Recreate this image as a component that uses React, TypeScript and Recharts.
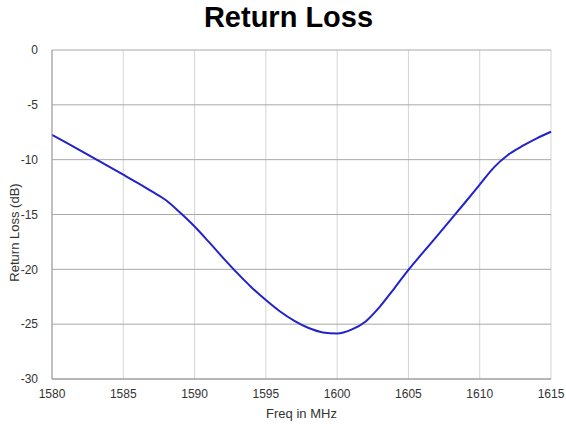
import { CartesianGrid, Label, Line, LineChart, XAxis, YAxis } from 'recharts';

const freqs = [
  1580, 1581, 1582, 1583, 1584, 1585, 1586, 1587, 1588, 1589, 1590, 1591, 1592, 1593, 1594, 1595, 1596, 1597,
  1598, 1599, 1600, 1601, 1602, 1603, 1604, 1605, 1606, 1607, 1608, 1609, 1610, 1611, 1612, 1613, 1614, 1615,
];
const returnLoss = [
  -7.75, -8.45, -9.17, -9.9, -10.63, -11.37, -12.12, -12.9, -13.7, -14.85, -16.1, -17.5, -18.95, -20.35, -21.65,
  -22.8, -23.85, -24.7, -25.35, -25.75, -25.85, -25.5, -24.75, -23.4, -21.75, -20.05, -18.5, -16.97, -15.42, -13.86,
  -12.28, -10.7, -9.55, -8.75, -8.05, -7.45,
];
const xTicks = [1580, 1585, 1590, 1595, 1600, 1605, 1610, 1615];
const yTicks = [-30, -25, -20, -15, -10, -5, 0];

const data = freqs.map((f, i) => ({ freq: f, rl: returnLoss[i] }));

const font = 'Liberation Sans, Arial, sans-serif';

// y label sits a bit below the plot's middle in the original
const YLabel = ({ viewBox }: any) => {
  const x = 19;
  const y = viewBox.y + viewBox.height / 2 + 18;
  return (
    <text
      x={x}
      y={y}
      transform={`rotate(-90, ${x}, ${y})`}
      textAnchor="middle"
      fill="#333"
      fontSize={13}
      fontFamily={font}
    >
      Return Loss (dB)
    </text>
  );
};

export default function App() {
  return (
    <div style={{ position: 'absolute', left: 0, top: 0, width: 566, height: 425, background: '#fff', fontFamily: font }}>
      <div
        style={{
          position: 'absolute',
          top: 0,
          left: 0,
          width: 577,
          textAlign: 'center',
          fontSize: 29,
          lineHeight: '34px',
          fontWeight: 'bold',
          color: '#000',
        }}
      >
        Return Loss
      </div>
      <LineChart width={566} height={425} data={data} margin={{ top: 50, right: 15, bottom: 16, left: 12 }}>
        <CartesianGrid horizontal={false} stroke="#d4d4d4" />
        <CartesianGrid vertical={false} stroke="#a8a8a8" />
        <XAxis
          dataKey="freq"
          type="number"
          domain={[1580, 1615]}
          ticks={xTicks}
          height={30}
          tickLine={false}
          axisLine={{ stroke: '#999' }}
          tick={{ fill: '#333', fontSize: 12, fontFamily: font }}
          tickMargin={4}
        >
          <Label value="Freq in MHz" position="insideBottom" offset={-9} fill="#333" fontSize={13} fontFamily={font} />
        </XAxis>
        <YAxis
          type="number"
          domain={[-30, 0]}
          ticks={yTicks}
          width={40}
          tickLine={false}
          axisLine={{ stroke: '#999' }}
          tick={{ fill: '#333', fontSize: 12, fontFamily: font }}
          tickMargin={8}
        >
          <Label content={<YLabel />} />
        </YAxis>
        <Line
          type="monotone"
          dataKey="rl"
          stroke="#2222cc"
          strokeWidth={2}
          dot={false}
          isAnimationActive={false}
        />
      </LineChart>
    </div>
  );
}
